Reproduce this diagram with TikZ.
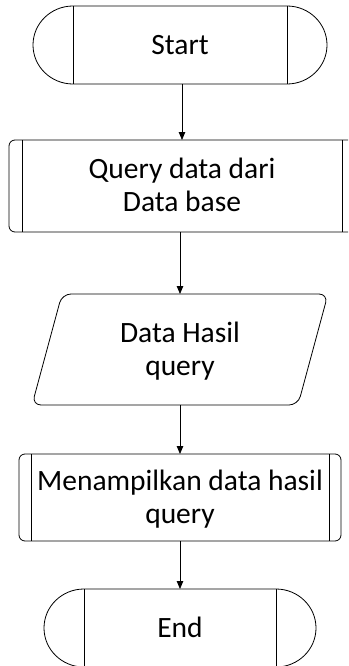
\documentclass[tikz,border=0pt]{standalone}
\usepackage{fontspec}
\setmainfont{Carlito}
\usetikzlibrary{arrows.meta}

% two centred lines whose baseline is the first line
\newcommand{\twolines}[2]{\begin{tabular}[t]{@{}c@{}}#1\\#2\end{tabular}}

\tikzset{
  flowbase/.style={draw=none, outer sep=0pt, inner sep=0pt,
    font=\fontsize{29.5}{33}\selectfont},
  oneline/.style={flowbase, text height=18.5pt, text depth=0pt},
  twoline/.style={flowbase, text height=0pt, text depth=14.5pt},
  shapeline/.style={draw=black, line width=0.8pt},
  flowarrow/.style={shapeline, -{Triangle[length=8pt,width=6.5pt]}},
}

\begin{document}
\begin{tikzpicture}[x=1pt,y=-1pt]
\useasboundingbox (0,0) rectangle (348,666);
\clip (0,0) rectangle (348,666);

% Start terminator
\node[oneline, minimum width=294pt, minimum height=78pt] (start) at (180,45) {Start};
\draw[shapeline] ([xshift=40pt]start.north west)
  arc[start angle=90, end angle=270, x radius=40pt, y radius=39pt]
  -- ([xshift=-40pt]start.south east)
  arc[start angle=-90, end angle=90, x radius=40pt, y radius=39pt] -- cycle;
\draw[shapeline] ([xshift=40pt]start.north west) -- ([xshift=40pt]start.south west)
  ([xshift=-40pt]start.north east) -- ([xshift=-40pt]start.south east);

% Query process
\node[twoline, minimum width=346pt, minimum height=92pt] (query) at (182,186)
  {\twolines{Query data dari}{Data base}};
\draw[shapeline, rounded corners=6pt] (query.north west) rectangle (query.south east);
\draw[shapeline] ([xshift=13pt]query.north west) -- ([xshift=13pt]query.south west)
  ([xshift=-13pt]query.north east) -- ([xshift=-13pt]query.south east);

% Data output
\node[twoline, minimum width=296pt, minimum height=111pt] (data) at (180,349.5)
  {\twolines{Data Hasil}{query}};
\draw[shapeline, rounded corners=9pt] (data.north) -- (data.north east)
  -- ([xshift=-30pt]data.south east) -- (data.south west)
  -- ([xshift=30pt]data.north west) -- cycle;

% Display process
\node[twoline, minimum width=322pt, minimum height=87pt] (show) at (180,497.5)
  {\twolines{Menampilkan data hasil}{query}};
\draw[shapeline, rounded corners=6pt] (show.north west) rectangle (show.south east);
\draw[shapeline] ([xshift=12pt]show.north west) -- ([xshift=12pt]show.south west)
  ([xshift=-12pt]show.north east) -- ([xshift=-12pt]show.south east);

% End terminator
\node[oneline, minimum width=272pt, minimum height=78pt] (stop) at (180,628) {End};
\draw[shapeline] ([xshift=40pt]stop.north west)
  arc[start angle=90, end angle=270, x radius=40pt, y radius=39pt]
  -- ([xshift=-40pt]stop.south east)
  arc[start angle=-90, end angle=90, x radius=40pt, y radius=39pt] -- cycle;
\draw[shapeline] ([xshift=40pt]stop.north west) -- ([xshift=40pt]stop.south west)
  ([xshift=-40pt]stop.north east) -- ([xshift=-40pt]stop.south east);

% Connectors
\draw[flowarrow] (start.south -| query.north) -- (query.north);
\draw[flowarrow] (query.south -| data.north) -- (data.north);
\draw[flowarrow] (data.south) -- (show.north);
\draw[flowarrow] (show.south) -- (stop.north);
\end{tikzpicture}
\end{document}
